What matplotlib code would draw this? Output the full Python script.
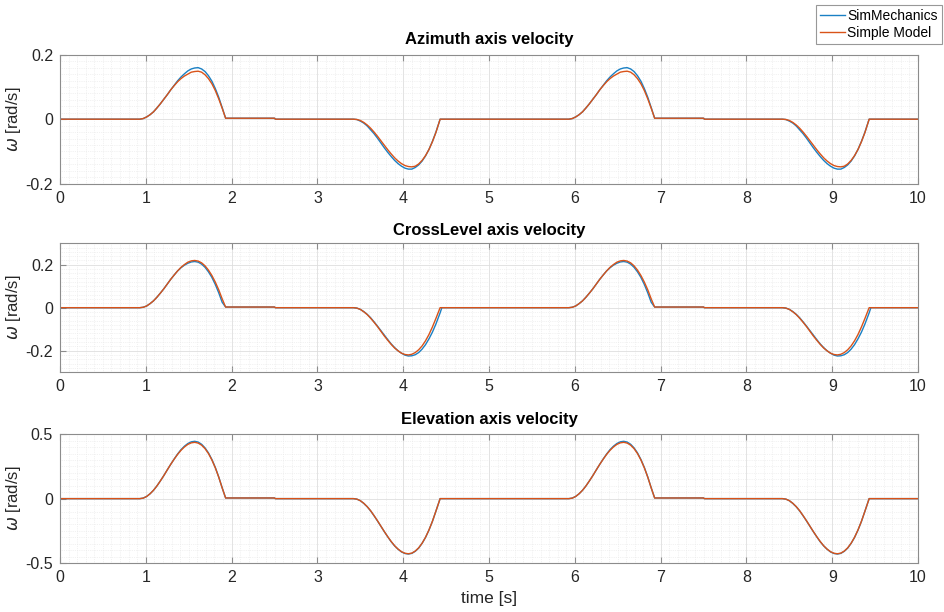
import matplotlib
matplotlib.use('Agg')
import matplotlib.pyplot as plt
from matplotlib.ticker import MultipleLocator

plt.rcParams['font.family'] = ['Liberation Sans', 'DejaVu Sans']
plt.rcParams['mathtext.fontset'] = 'dejavusans'

# sample times [s]
t = [0.00,
     0.93, 0.97, 1.01, 1.05, 1.09, 1.13, 1.17, 1.21, 1.25, 1.29, 1.33, 1.37, 1.41, 1.45, 1.49, 1.53, 1.57,
     1.61, 1.65, 1.69, 1.73, 1.77, 1.81, 1.85, 1.89, 1.93,
     2.50, 2.51,
     3.42, 3.46, 3.50, 3.54, 3.58, 3.62, 3.66, 3.70, 3.74, 3.78, 3.82, 3.86, 3.90, 3.94, 3.98, 4.02, 4.06,
     4.10, 4.14, 4.18, 4.22, 4.26, 4.30, 4.34, 4.38, 4.43,
     4.45,
     5.00,
     5.93, 5.97, 6.01, 6.05, 6.09, 6.13, 6.17, 6.21, 6.25, 6.29, 6.33, 6.37, 6.41, 6.45, 6.49, 6.53, 6.57,
     6.61, 6.65, 6.69, 6.73, 6.77, 6.81, 6.85, 6.89, 6.93,
     7.50, 7.51,
     8.42, 8.46, 8.50, 8.54, 8.58, 8.62, 8.66, 8.70, 8.74, 8.78, 8.82, 8.86, 8.90, 8.94, 8.98, 9.02, 9.06,
     9.10, 9.14, 9.18, 9.22, 9.26, 9.30, 9.34, 9.38, 9.43,
     9.45,
     10.00]

# Azimuth axis velocity [rad/s], one movement cycle (positive pulse, negative pulse)
az_sim_up = [0, .002, .007, .014, .023, .035, .048, .062, .076, .091, .105, .119, .131, .141, .150, .156, .159,
             .160, .156, .148, .135, .118, .095, .068, .036, .003]
az_sim_down = [0, -.001, -.006, -.012, -.021, -.033, -.045, -.059, -.074, -.089, -.103, -.116, -.128, -.138,
               -.146, -.152, -.155, -.155, -.150, -.142, -.130, -.114, -.094, -.069, -.041, 0]
az_simple_up = [0, .002, .007, .014, .023, .035, .048, .062, .076, .091, .104, .116, .126, .134, .140, .146, .148,
                .149, .146, .138, .126, .110, .089, .063, .034, .003]
az_simple_down = [0, -.001, -.004, -.010, -.018, -.028, -.040, -.053, -.067, -.081, -.095, -.108, -.120, -.130,
                  -.138, -.144, -.147, -.148, -.146, -.139, -.128, -.113, -.094, -.070, -.042, 0]
az_offset = .003

# CrossLevel axis velocity [rad/s]
cl_sim_up = [0, .002, .008, .019, .032, .049, .068, .088, .110, .132, .152, .171, .186, .198, .207, .213, .215,
             .212, .203, .188, .167, .141, .108, .069, .025, .003]
cl_sim_down = [0, -.002, -.008, -.018, -.031, -.047, -.066, -.086, -.107, -.128, -.149, -.169, -.186, -.201,
               -.212, -.221, -.225, -.224, -.219, -.209, -.193, -.172, -.145, -.114, -.077, -.024]
cl_simple_up = [0, .002, .008, .019, .032, .049, .068, .088, .110, .132, .152, .171, .188, .201, .212, .218, .220,
                .217, .209, .195, .175, .150, .119, .083, .041, .003]
cl_simple_down = [0, -.002, -.008, -.019, -.032, -.049, -.068, -.088, -.110, -.132, -.152, -.171, -.188, -.201,
                  -.212, -.218, -.220, -.217, -.209, -.196, -.178, -.154, -.125, -.090, -.051, 0]
cl_offset = .003

# Elevation axis velocity [rad/s]
el_sim_up = [0, .004, .017, .038, .065, .099, .138, .179, .223, .266, .307, .346, .380, .407, .428, .441, .445,
             .439, .422, .394, .355, .304, .242, .168, .084, .005]
el_sim_down = [0, -.004, -.016, -.037, -.063, -.095, -.133, -.173, -.215, -.257, -.297, -.335, -.367, -.393,
               -.414, -.426, -.430, -.425, -.409, -.384, -.347, -.301, -.244, -.177, -.099, 0]
el_simple_up = [0, .004, .017, .038, .065, .099, .138, .179, .223, .266, .306, .343, .375, .401, .421, .433, .437,
                .431, .415, .388, .350, .300, .239, .166, .083, .005]
el_simple_down = [0, -.004, -.016, -.036, -.062, -.094, -.132, -.172, -.214, -.256, -.296, -.333, -.366, -.392,
                  -.412, -.424, -.428, -.423, -.407, -.382, -.346, -.300, -.243, -.176, -.099, 0]
el_offset = .005


def cycle(up, down, off):
    # rest, positive pulse, small hold, rest, negative pulse, rest
    return [0.0] + up + [off, 0.0] + down + [0.0]


def run(up, down, off):
    # two identical cycles, 0-5 s and 5-10 s
    c = cycle(up, down, off)
    return c + c + [0.0]


titles = ['Azimuth axis velocity', 'CrossLevel axis velocity', 'Elevation axis velocity']
series = [(run(az_sim_up, az_sim_down, az_offset), run(az_simple_up, az_simple_down, az_offset)),
          (run(cl_sim_up, cl_sim_down, cl_offset), run(cl_simple_up, cl_simple_down, cl_offset)),
          (run(el_sim_up, el_sim_down, el_offset), run(el_simple_up, el_simple_down, el_offset))]
ylims = [(-0.2, 0.2), (-0.3, 0.3), (-0.5, 0.5)]
yticks = [[-0.2, 0, 0.2], [-0.2, 0, 0.2], [-0.5, 0, 0.5]]
yminor = [0.02, 0.02, 0.05]
ytlabels = [['-0.2', '0', '0.2'], ['-0.2', '0', '0.2'], ['-0.5', '0', '0.5']]

blue = '#1a80c4'
orange = '#D95319'
txt = '#262626'
edge = '#8c8c8c'

fig = plt.figure(figsize=(9.45, 6.12), dpi=100)
bottoms = [0.700, 0.392, 0.080]
title_pads = [8, 6, 7]
axes = []
for i in range(3):
    ax = fig.add_axes([0.0635, bottoms[i], 0.908, 0.2105])
    l1, = ax.plot(t, series[i][0], color=blue, lw=1.0, label='SimMechanics')
    l2, = ax.plot(t, series[i][1], color=orange, lw=1.0, label='Simple Model')
    ax.set_xlim(0, 10)
    ax.set_ylim(*ylims[i])
    ax.set_xticks(range(11))
    ax.set_yticks(yticks[i])
    ax.set_yticklabels(ytlabels[i])
    ax.xaxis.set_minor_locator(MultipleLocator(0.1))
    ax.yaxis.set_minor_locator(MultipleLocator(yminor[i]))
    ax.grid(True, which='major', color='#dedede', lw=0.6)
    ax.grid(True, which='minor', color='#e6e6e6', lw=0.5, linestyle=':')
    ax.set_axisbelow(True)
    ax.tick_params(which='major', direction='in', length=4, top=True, right=False,
                   color=edge, labelcolor=txt, labelsize=11.5, pad=5)
    ax.tick_params(which='minor', length=0)
    for s in ax.spines.values():
        s.set_color(edge)
        s.set_linewidth(0.8)
    ax.set_title(titles[i], fontsize=12, fontweight='bold', color='black', pad=title_pads[i])
    ax.set_ylabel(r'$\omega$ [rad/s]', fontsize=12, color=txt, labelpad=2)
    axes.append(ax)

axes[2].set_xlabel('time [s]', fontsize=12.5, color=txt, labelpad=4)

leg = fig.legend([l1, l2], ['SimMechanics', 'Simple Model'], loc='upper right',
                 bbox_to_anchor=(0.997, 0.992), fontsize=10, frameon=True, fancybox=False,
                 handlelength=1.8, handletextpad=0.2, borderpad=0.3, labelspacing=0.2,
                 borderaxespad=0)
leg.get_frame().set_edgecolor('#7f7f7f')
leg.get_frame().set_linewidth(0.8)

fig.savefig('out.png', dpi=100)
